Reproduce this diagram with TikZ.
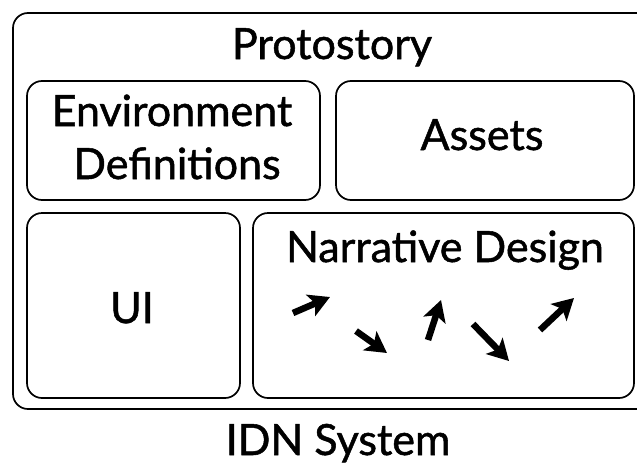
\documentclass[tikz,border=0pt]{standalone}
\usepackage{fontspec}
\setmainfont{Lato}[RawFeature={embolden=1.2}]
\usetikzlibrary{arrows.meta}
\begin{document}
\begin{tikzpicture}[x=1pt,y=-1pt,
  box/.style={draw=black, line width=1.7pt, rounded corners=15pt},
  lbl/.style={font=\fontsize{43}{53}\selectfont, anchor=base, inner sep=0pt},
  flow/.style={line width=6.5pt, -{Stealth[length=21pt,width=23pt,inset=5pt]}}]
\useasboundingbox (0,0) rectangle (637,466);
\clip (0,0) rectangle (637,466);
\draw[box] (13,13) rectangle (660,409);
\node[lbl] (proto) at (332,59) {Protostory};
\draw[box] (27,81) rectangle (320,200);
\node[lbl] (env1) at (172,126) {Environment};
\node[lbl] (env2) at (177,179) {Definitions};
\draw[box] (336,81) rectangle (634,200);
\node[lbl] (assets) at (482,150) {Assets};
\draw[box] (27,213) rectangle (240,398);
\node[lbl] (ui) at (132,323) {UI};
\draw[box] (253,213) rectangle (634,398);
\node[lbl] (nd) at (445,262) {Narrative Design};
\node[lbl] (idn) at (338,455) {IDN System};
\coordinate (a1) at (293,313); \coordinate (b1) at (330,297);
\coordinate (a2) at (356,331); \coordinate (b2) at (387,353);
\coordinate (a3) at (428,340); \coordinate (b3) at (441,300);
\coordinate (a4) at (473,324); \coordinate (b4) at (509,361);
\coordinate (a5) at (540,330); \coordinate (b5) at (574,298);
\draw[flow] (a1) -- (b1);
\draw[flow] (a2) -- (b2);
\draw[flow] (a3) -- (b3);
\draw[flow] (a4) -- (b4);
\draw[flow] (a5) -- (b5);
\end{tikzpicture}
\end{document}
